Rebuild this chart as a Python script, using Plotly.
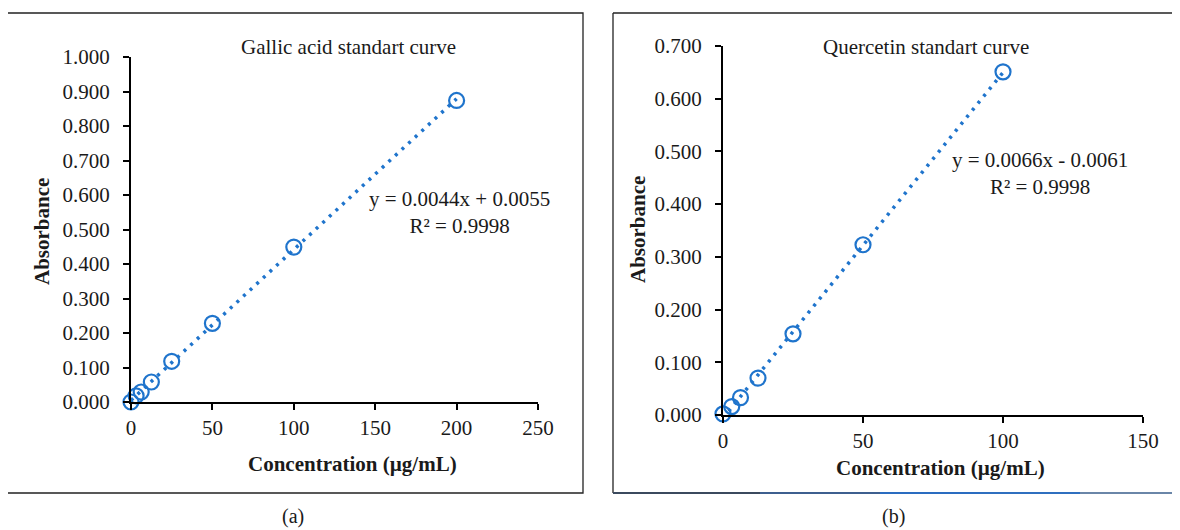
import numpy as np
import plotly.graph_objects as go

# ---- Data ----
gallic_conc = [0, 3.125, 6.25, 12.5, 25, 50, 100, 200]
gallic_abs = [0.000, 0.018, 0.029, 0.058, 0.118, 0.228, 0.449, 0.874]
quer_conc = [0, 3.125, 6.25, 12.5, 25, 50, 100]
quer_abs = [0.002, 0.016, 0.033, 0.070, 0.154, 0.323, 0.651]

gallic_xticks = [0, 50, 100, 150, 200, 250]
gallic_yticks = [0.0, 0.1, 0.2, 0.3, 0.4, 0.5, 0.6, 0.7, 0.8, 0.9, 1.0]
quer_xticks = [0, 50, 100, 150]
quer_yticks = [0.0, 0.1, 0.2, 0.3, 0.4, 0.5, 0.6, 0.7]

gallic_title = "Gallic acid standart curve"
quer_title = "Quercetin standart curve"
gallic_eq = "y = 0.0044x + 0.0055<br>R² = 0.9998"
quer_eq = "y = 0.0066x - 0.0061<br>R² = 0.9998"

W, H = 1180, 530
OFF = 8  # page body margin
BLUE = "#1f74cc"
FONT = "Liberation Serif, Times New Roman, serif"
TXT = "#1a1a1a"


def px(x):
    return (x - OFF) / W


def py(y):
    return 1 - (y - OFF) / H


fig = go.Figure()


def add_panel(xs, ys, xa, ya):
    # trendline from least-squares fit
    m, b = np.polyfit(xs, ys, 1)
    xl = np.array([min(xs), max(xs)])
    fig.add_trace(go.Scatter(x=xl, y=m * xl + b, mode="lines", xaxis=xa, yaxis=ya,
                             line=dict(color=BLUE, width=3.5, dash="3px,6px"),
                             showlegend=False, hoverinfo="skip", cliponaxis=False))
    fig.add_trace(go.Scatter(x=xs, y=ys, mode="markers", xaxis=xa, yaxis=ya,
                             marker=dict(symbol="circle", size=15, color="rgba(0,0,0,0)",
                                         line=dict(color=BLUE, width=2.2)),
                             showlegend=False, cliponaxis=False))


add_panel(gallic_conc, gallic_abs, "x", "y")
add_panel(quer_conc, quer_abs, "x2", "y2")

axis_common = dict(showline=True, linecolor="black", linewidth=2, ticks="outside",
                   ticklen=6, tickwidth=2, tickcolor="black", showgrid=False, zeroline=False,
                   automargin=False,
                   tickfont=dict(family=FONT, size=21, color=TXT), fixedrange=True)

fig.update_layout(
    template="none",
    width=W, height=H, margin=dict(l=0, r=0, t=0, b=0, pad=0, autoexpand=False),
    paper_bgcolor="white", plot_bgcolor="white",
    xaxis=dict(domain=[px(131), px(538)], range=[0, 250], tickvals=gallic_xticks,
               anchor="y", ticklabelstandoff=0, **axis_common),
    yaxis=dict(domain=[py(402), py(57)], range=[0, 1.0], tickvals=gallic_yticks,
               tickformat=".3f", anchor="x", ticklabelstandoff=9, **axis_common),
    xaxis2=dict(domain=[px(723), px(1143)], range=[0, 150], tickvals=quer_xticks,
                anchor="y2", ticklabelstandoff=0, **axis_common),
    yaxis2=dict(domain=[py(415), py(46)], range=[0, 0.7], tickvals=quer_yticks,
                tickformat=".3f", anchor="x2", ticklabelstandoff=9, **axis_common),
)

ann = []


def text(x, y, s, size=21, bold=False, angle=0):
    if bold:
        s = "<b>" + s + "</b>"
    ann.append(dict(x=px(x), y=py(y), xref="paper", yref="paper", text=s, showarrow=False,
                    xanchor="center", yanchor="middle", textangle=angle, align="center",
                    font=dict(family=FONT, size=size, color=TXT)))


text(348, 47, gallic_title, size=21)
text(926, 47, quer_title, size=21)
text(459, 212, gallic_eq, size=21)
text(1040, 174, quer_eq, size=21)
text(42, 232, "Absorbance", size=21, bold=True, angle=-90)
text(638, 230, "Absorbance", size=21, bold=True, angle=-90)
text(352, 464, "Concentration (µg/mL)", size=21, bold=True)
text(940, 468, "Concentration (µg/mL)", size=21, bold=True)
text(293, 516, "(a)", size=20)
text(893, 516, "(b)", size=20)
fig.update_layout(annotations=ann)

shapes = []
# panel (a) frame
shapes.append(dict(type="rect", xref="paper", yref="paper", x0=px(7), x1=px(583),
                   y0=py(493), y1=py(13), line=dict(color="#222", width=1.3)))
# panel (b) frame: left and top edges
shapes.append(dict(type="line", xref="paper", yref="paper", x0=px(613), x1=px(613),
                   y0=py(493), y1=py(13), line=dict(color="#222", width=1.3)))
shapes.append(dict(type="line", xref="paper", yref="paper", x0=px(613), x1=px(1180),
                   y0=py(13), y1=py(13), line=dict(color="#222", width=1.3)))
# panel (b) bottom edge with a bluish tint
seg_x = [613, 760, 880, 980, 1080, 1180]
seg_c = ["#3b4a5e", "#3d5f8f", "#2a6cc0", "#2f6fbf", "#6a86a8"]
for i in range(len(seg_c)):
    shapes.append(dict(type="line", xref="paper", yref="paper", x0=px(seg_x[i]), x1=px(seg_x[i + 1]),
                       y0=py(493), y1=py(493), line=dict(color=seg_c[i], width=2)))
fig.update_layout(shapes=shapes)

fig.write_html("out.html")
